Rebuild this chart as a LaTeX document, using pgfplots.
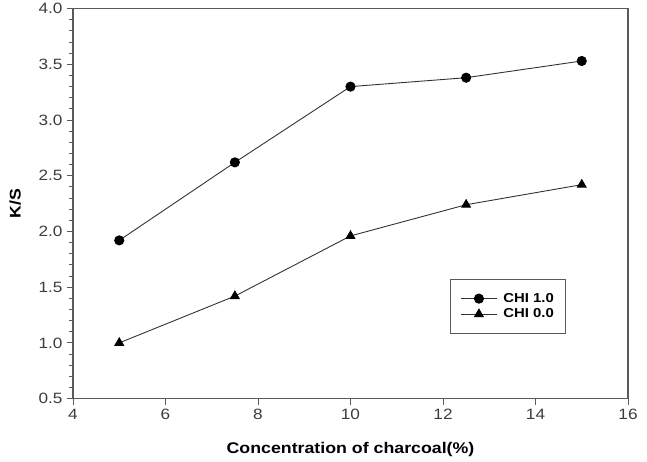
\documentclass[border=0pt]{standalone}
\usepackage{pgfplots}
\pgfplotsset{compat=1.18}
\usepackage{fontspec}
\setmainfont{Liberation Sans}[FakeStretch=1.15]
\definecolor{axgray}{RGB}{90,90,90}
\definecolor{txgray}{RGB}{60,60,60}
\definecolor{lngray}{RGB}{50,50,50}
\begin{document}
\begin{tikzpicture}
\begin{axis}[
  scale only axis,
  width=555bp, height=390bp,
  xmin=4, xmax=16, ymin=0.5, ymax=4.0,
  xtick={4,6,...,16},
  ytick={0.5,1.0,...,4.0},
  minor y tick num=4,
  yticklabel style={/pgf/number format/fixed, /pgf/number format/fixed zerofill, /pgf/number format/precision=1, xshift=-1bp},
  /pgf/number format/assume math mode=true,
  tick align=outside,
  xtick pos=bottom, ytick pos=left,
  major tick length=6bp, minor tick length=3.5bp,
  axis line style={axgray, line width=1.4pt},
  every tick/.style={axgray, line width=1pt},
  tick label style={font=\fontsize{15}{17}\selectfont, text=txgray},
  xticklabel style={yshift=-1bp},
  xlabel={\textbf{Concentration of charcoal(\%)}},
  ylabel={\textbf{K/S}},
  label style={font=\fontsize{15.5}{17}\selectfont},
  xlabel style={at={(axis description cs:0.5,-0.131)}, anchor=center},
  ylabel style={at={(axis description cs:-0.104,0.5)}, anchor=center},
  legend style={at={(axis cs:12.15,1.575)}, anchor=north west, draw=axgray, line width=1.1pt,
     font=\fontsize{13}{15}\selectfont\bfseries, inner xsep=10bp, inner ysep=12bp, row sep=1bp,
     text=black},
  legend image code/.code={%
    \draw[mark repeat=2,mark phase=2] plot coordinates {(0bp,0bp) (18bp,0bp) (36bp,0bp)};},
  legend cell align=left,
]
\addplot[lngray, line width=0.9pt, mark=*, mark size=4.6bp, mark options={fill=black, draw=black}]
  coordinates {(5,1.92) (7.5,2.62) (10,3.30) (12.5,3.38) (15,3.53)};
\addlegendentry{\hspace{4bp}CHI 1.0}
\addplot[lngray, line width=0.9pt, mark=triangle*, mark size=5bp, mark options={fill=black, draw=black}]
  coordinates {(5,1.00) (7.5,1.42) (10,1.96) (12.5,2.24) (15,2.42)};
\addlegendentry{\hspace{4bp}CHI 0.0}
\end{axis}
\path (current axis.south west) ++(-73bp,-63bp) coordinate (bbA);
\path (current axis.north east) ++(19bp,7bp) coordinate (bbB);
\path (bbA) rectangle (bbB);
\end{tikzpicture}
\end{document}
